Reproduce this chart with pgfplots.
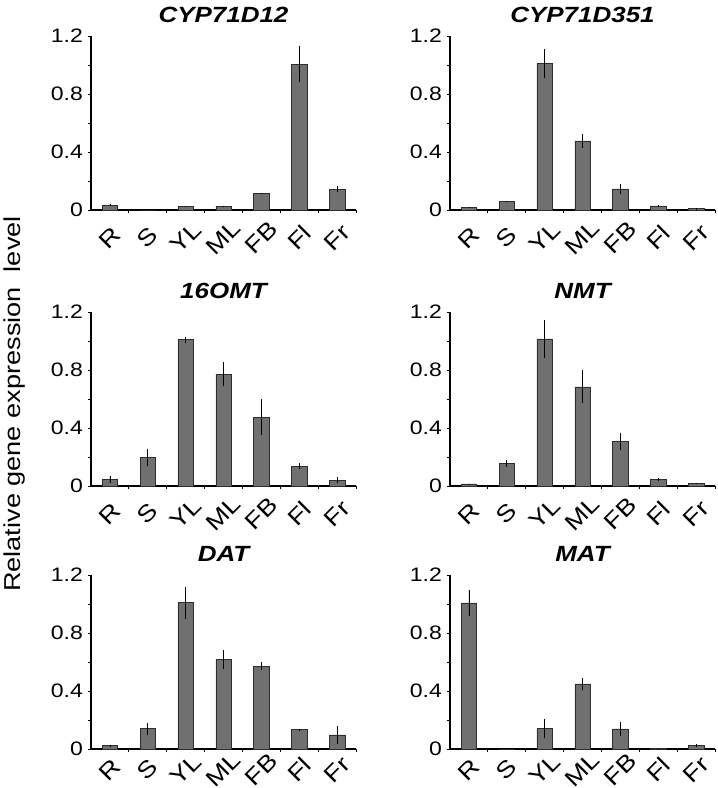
\documentclass[border=0pt]{standalone}
\usepackage{fontspec}
\setmainfont{Liberation Sans}[FakeStretch=1.18]
\usepackage{pgfplots}
\pgfplotsset{compat=1.18}
\definecolor{barfill}{RGB}{112,112,112}
\definecolor{bardraw}{RGB}{45,45,45}
\newcommand{\tlfont}{\fontsize{23}{25}\selectfont}
\newcommand{\ylfont}{\fontsize{19.5}{22}\selectfont}
\pgfplotsset{panel/.style={
  scale only axis, width=265pt, height=174pt,
  anchor=south west,
  xmin=-0.5, xmax=6.5, ymin=0, ymax=1.2,
  ybar, bar width=15.5pt,
  axis x line*=bottom, axis y line*=left,
  axis line style={line width=1.3pt, -},
  xtick={0,...,6}, xticklabels={R,S,YL,ML,FB,Fl,Fr},
  minor xtick={0.5,1.5,...,6.5},
  ytick={0,0.4,0.8,1.2},
  minor ytick={0.2,0.6,1.0},
  /pgf/number format/assume math mode=true,
  major x tick style=transparent,
  major tick length=3pt, minor tick length=3pt,
  tick align=outside,
  every tick/.style={black, line width=1pt},
  every minor tick/.style={black, line width=1pt},
  tick label style={font=\ylfont},
  xticklabel style={anchor=center, inner sep=0pt, yshift=#1, rotate=45, font=\tlfont},
  yticklabel style={inner sep=0pt, xshift=-5pt, font=\ylfont},
  title style={font=\fontsize{22}{25}\selectfont\bfseries\itshape, anchor=base, at={(0.5,1)}, yshift=7.5pt},
  clip=false,
},
panel/.default=-24.5pt,
bars/.style={fill=barfill, draw=bardraw, line width=0.5pt,
  error bars/.cd, y dir=both, y explicit, error mark=none,
  error bar style={line width=0.8pt, black}}
}
\begin{document}
\begin{tikzpicture}
\useasboundingbox (0pt,0pt) rectangle (718pt,-788pt);
% Row 1
\begin{axis}[panel, at={(91pt,-210pt)}, title={CYP71D12}]
\addplot[bars] coordinates {
 (0,0.034) +- (0,0.008)
 (1,0.0) +- (0,0)
 (2,0.025) +- (0,0.006)
 (3,0.025) +- (0,0.006)
 (4,0.115) +- (0,0.003)
 (5,1.005) +- (0,0.125)
 (6,0.143) +- (0,0.02)
};
\end{axis}
\begin{axis}[panel, at={(450pt,-210pt)}, title={CYP71D351}]
\addplot[bars] coordinates {
 (0,0.018) +- (0,0.004)
 (1,0.06) +- (0,0.005)
 (2,1.01) +- (0,0.10)
 (3,0.476) +- (0,0.045)
 (4,0.145) +- (0,0.035)
 (5,0.028) +- (0,0.008)
 (6,0.009) +- (0,0.002)
};
\end{axis}
% Row 2
\begin{axis}[panel, at={(91pt,-486pt)}, title={16OMT}]
\addplot[bars] coordinates {
 (0,0.046) +- (0,0.023)
 (1,0.198) +- (0,0.06)
 (2,1.009) +- (0,0.02)
 (3,0.772) +- (0,0.08)
 (4,0.475) +- (0,0.125)
 (5,0.136) +- (0,0.02)
 (6,0.041) +- (0,0.02)
};
\end{axis}
\begin{axis}[panel, at={(450pt,-486pt)}, title={NMT}]
\addplot[bars] coordinates {
 (0,0.014) +- (0,0.003)
 (1,0.157) +- (0,0.024)
 (2,1.014) +- (0,0.13)
 (3,0.684) +- (0,0.113)
 (4,0.309) +- (0,0.06)
 (5,0.046) +- (0,0.01)
 (6,0.018) +- (0,0.004)
};
\end{axis}
% Row 3
\begin{axis}[panel=-17.5pt, at={(91pt,-749pt)}, title={DAT}]
\addplot[bars] coordinates {
 (0,0.023) +- (0,0.005)
 (1,0.14) +- (0,0.04)
 (2,1.009) +- (0,0.11)
 (3,0.618) +- (0,0.066)
 (4,0.572) +- (0,0.025)
 (5,0.133) +- (0,0.005)
 (6,0.097) +- (0,0.06)
};
\end{axis}
\begin{axis}[panel=-17.5pt, at={(450pt,-749pt)}, title={MAT}]
\addplot[bars] coordinates {
 (0,1.008) +- (0,0.092)
 (1,0.0) +- (0,0)
 (2,0.141) +- (0,0.064)
 (3,0.449) +- (0,0.04)
 (4,0.139) +- (0,0.048)
 (5,0.002) +- (0,0.001)
 (6,0.025) +- (0,0.01)
};
\end{axis}
\node[rotate=90, font=\fontsize{23}{26}\selectfont, inner sep=0pt] at (15pt,-404pt) {Relative gene expression\ \ level};
\end{tikzpicture}
\end{document}
